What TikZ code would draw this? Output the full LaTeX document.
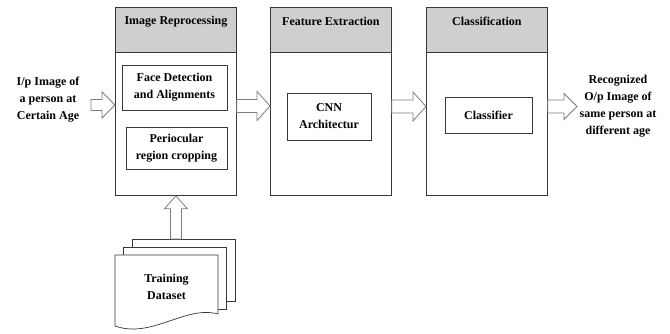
\documentclass[tikz,border=0pt]{standalone}
\usepackage{fontspec}
\setmainfont{Liberation Serif}
\usetikzlibrary{calc}
\definecolor{hdrgray}{RGB}{208,206,208}
\definecolor{lncol}{RGB}{55,55,55}
\definecolor{arcol}{RGB}{125,125,125}
\tikzset{
  stage/.style={draw=lncol, line width=0.8pt, minimum width=121pt, minimum height=188pt, inner sep=0pt, anchor=north west},
  header/.style={draw=lncol, line width=0.8pt, fill=hdrgray, minimum width=121pt, minimum height=45pt, inner sep=0pt, anchor=north west},
  ttl/.style={font=\fontsize{12}{14}\selectfont\bfseries, inner sep=0pt},
  inbox/.style={draw=lncol, line width=0.8pt, align=center, inner sep=0pt, font=\fontsize{12}{17}\selectfont\bfseries},
  freetext/.style={align=center, inner sep=0pt, font=\fontsize{12}{17}\selectfont\bfseries},
  sheet/.style={draw=lncol, line width=0.7pt, fill=white, inner sep=0pt, anchor=north west},
  barrow/.style={draw=arcol, line width=0.8pt, fill=white, line join=miter},
}
% horizontal block arrow: start, end, half body, half head, head length
\newcommand{\harr}[5]{%
  \draw[barrow] let \p1=(#1), \p2=(#2) in
    (\x1,\y1+#3) -- (\x2-#5,\y1+#3) -- (\x2-#5,\y1+#4) -- (\x2,\y1)
    -- (\x2-#5,\y1-#4) -- (\x2-#5,\y1-#3) -- (\x1,\y1-#3) -- cycle;}
% vertical (upward) block arrow
\newcommand{\varr}[5]{%
  \draw[barrow] let \p1=(#1), \p2=(#2) in
    (\x1-#3,\y1) -- (\x1-#3,\y2-#5) -- (\x1-#4,\y2-#5) -- (\x1,\y2)
    -- (\x1+#4,\y2-#5) -- (\x1+#3,\y2-#5) -- (\x1+#3,\y1) -- cycle;}
\begin{document}
\begin{tikzpicture}[x=1pt,y=-1pt]
\useasboundingbox (0,0) rectangle (670,333);

% stages
\node[stage] (b1) at (115,7) {};
\node[stage] (b2) at (270,7) {};
\node[stage] (b3) at (426,7) {};
\node[header] (h1) at (b1.north west) {};
\node[header] (h2) at (b2.north west) {};
\node[header] (h3) at (b3.north west) {};
\node[ttl] (t1) at ($(h1.north)+(0,14.5)$) {Image Reprocessing};
\node[ttl] (t2) at ($(h2.north)+(0,14.5)$) {Feature Extraction};
\node[ttl] (t3) at ($(h3.north)+(0,14.5)$) {Classification};

% inner boxes
\node[inbox, minimum width=105pt, minimum height=45pt] (fd) at (174.5,87.5) {Face Detection\\and Alignments};
\node[inbox, minimum width=101pt, minimum height=42pt] (pc) at (176.5,148) {Periocular\\region cropping};
\node[inbox, minimum width=84pt, minimum height=47pt] (cnn) at (329,116.5) {CNN\\Architectur};
\node[inbox, minimum width=87pt, minimum height=36pt] (cls) at (488.5,115) {Classifier};

% free texts
\node[freetext] (inp) at (48,100) {I/p Image of\\a person at\\Certain Age};
\node[freetext] (outp) at (618,106.5) {Recognized\\O/p Image of\\same person at\\different age};

% arrow levels
\coordinate (a0) at (91,105);
\coordinate (a1) at (0,106);
\coordinate (a2) at (0,106.5);
\coordinate (a3) at (577,106.5);

\harr{a0}{b1.west |- a0}{5.5pt}{13pt}{13pt}
\harr{b1.east |- a1}{b2.west |- a1}{6.5pt}{14.5pt}{13pt}
\harr{b2.east |- a2}{b3.west |- a2}{6.5pt}{14.5pt}{13pt}
\harr{b3.east |- a3}{a3}{6.5pt}{13pt}{13pt}

% training dataset stack
\node[sheet, minimum width=103pt, minimum height=62pt] (s3) at (132,239) {};
\node[sheet, minimum width=103pt, minimum height=62pt] (s2) at (123,247) {};
\draw[draw=lncol, line width=0.7pt, fill=white]
  (115,255) -- (218,255) -- (218,314)
  .. controls (185,305) and (152,339) .. (115,326) -- cycle;
\node[freetext] (td) at (166.5,287) {Training\\Dataset};

\varr{s3.north -| b1.south}{b1.south}{5.5pt}{11.5pt}{13pt}
\end{tikzpicture}
\end{document}
